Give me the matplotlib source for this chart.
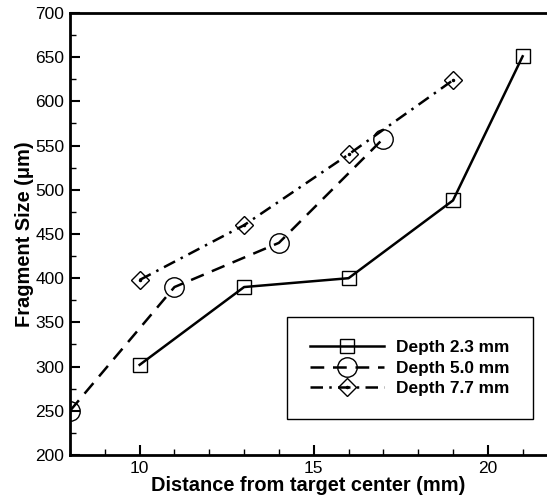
import numpy as np
import matplotlib
matplotlib.use("Agg")
import matplotlib.pyplot as plt
from matplotlib.ticker import MultipleLocator

plt.rcParams['font.family'] = ['Liberation Sans', 'DejaVu Sans']

# data
d23_x = [10, 13, 16, 19, 21]
d23_y = [302, 390, 400, 488, 651]
d50_x = [8, 11, 14, 17]
d50_y = [250, 390, 440, 558]
d77_x = [10, 13, 16, 19]
d77_y = [398, 460, 540, 624]
labels = ["Depth 2.3 mm", "Depth 5.0 mm", "Depth 7.7 mm"]

fig = plt.figure(figsize=(5.47, 5.00), dpi=100)
ax = fig.add_axes([0.128, 0.09, 0.872, 0.884])

l1, = ax.plot(d23_x, d23_y, color='black', lw=1.8, ls='-',
              marker='s', ms=10, mfc='none', mec='black', mew=1.0)
l2, = ax.plot(d50_x, d50_y, color='black', lw=1.8, ls=(0, (5.5, 3.5)),
              marker='o', ms=14, mfc='none', mec='black', mew=1.0)
l3, = ax.plot(d77_x, d77_y, color='black', lw=1.8, ls=(0, (5, 2.5, 1, 2.5)),
              marker='D', ms=9, mfc='none', mec='black', mew=1.0)
dots, = ax.plot(d77_x, d77_y, ls='none', marker='.', ms=3, color='black')

ax.set_xlim(8, 21.7)
ax.set_ylim(200, 700)
ax.xaxis.set_major_locator(MultipleLocator(5))
ax.xaxis.set_minor_locator(MultipleLocator(1))
ax.yaxis.set_major_locator(MultipleLocator(50))
ax.yaxis.set_minor_locator(MultipleLocator(25))
ax.tick_params(which='both', direction='in', top=False, right=False,
               labelsize=12.5, width=1.5)
ax.tick_params(which='major', length=7, pad=4)
ax.tick_params(which='minor', length=4, width=1.0)
for s in ['left', 'bottom', 'top']:
    ax.spines[s].set_linewidth(2)
ax.spines['right'].set_visible(False)

ax.set_xlabel("Distance from target center (mm)", fontsize=14.4,
              fontweight='bold', labelpad=0)
ax.set_ylabel("Fragment Size (\u03bcm)", fontsize=14.4,
              fontweight='bold', labelpad=1)

leg = ax.legend([l1, l2, (l3, dots)], labels, loc='upper left',
                bbox_to_anchor=(287 / 547, 1 - 317 / 500),
                bbox_transform=fig.transFigure,
                prop={'weight': 'bold', 'size': 12.4},
                handlelength=4.3, handletextpad=0.7, labelspacing=0.3,
                borderpad=1.35, borderaxespad=0, fancybox=False,
                framealpha=1, edgecolor='black')
leg.get_frame().set_linewidth(1.0)

fig.savefig("out.png", dpi=100)
